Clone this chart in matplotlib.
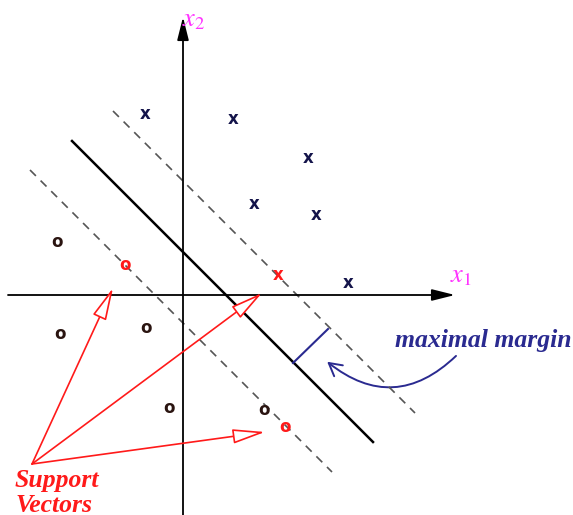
import matplotlib.pyplot as plt
from matplotlib.patches import FancyArrowPatch

# class "x" points (x1, x2), support vector in red
x_pts = [(-38, 181), (50, 176), (125, 137), (71, 91), (133, 80), (165, 12)]
x_sv = [(95, 20)]
# class "o" points
o_pts = [(-126, 53), (-123, -39), (-37, -33), (-14, -113), (81, -115)]
o_sv = [(-58, 30), (102, -132)]

# hyperplane x2 = -x1 + c, margins at c +/- m
c = 43
m = 71
solid_x1 = [-111, 190]
upper_x1 = [-70, 232]
lower_x1 = [-153, 149]

navy = "#14144a"
dark = "#2a1410"
blue = "#2a2a90"
red = "#ff1a1a"
magenta = "#ff33ff"

fig = plt.figure(figsize=(5.73, 5.15), dpi=100)
ax = fig.add_axes([0, 0, 1, 1])
ax.set_xlim(-183, 390)
ax.set_ylim(-220, 295)
ax.axis("off")

# axes arrows
ax.annotate("", xy=(272, 0), xytext=(-175, 0),
            arrowprops=dict(arrowstyle="-|>,head_length=1.4,head_width=0.35",
                            color="black", lw=1.3, shrinkA=0, shrinkB=0))
ax.annotate("", xy=(0, 278), xytext=(0, -222),
            arrowprops=dict(arrowstyle="-|>,head_length=1.4,head_width=0.35",
                            color="black", lw=1.3, shrinkA=0, shrinkB=0))
plt.rcParams["mathtext.fontset"] = "stix"
ax.text(278, 20, r"$x_1$", color=magenta, fontsize=19, ha="center", va="center")
ax.text(11, 276, r"$x_2$", color=magenta, fontsize=19, ha="center", va="center")

# separating line and margins
ax.plot(solid_x1, [-v + c for v in solid_x1], color="black", lw=1.8)
ax.plot(upper_x1, [-v + c + m for v in upper_x1], color="#555555", lw=1.2,
        ls=(0, (5, 4)))
ax.plot(lower_x1, [-v + c - m for v in lower_x1], color="#555555", lw=1.2,
        ls=(0, (5, 4)))

# points drawn as letters
for px, py in x_pts:
    ax.text(px, py, "x", color=navy, fontsize=12, fontweight="bold",
            family="DejaVu Sans", ha="center", va="center")
for px, py in x_sv:
    ax.text(px, py, "x", color=red, fontsize=12, fontweight="bold",
            family="DejaVu Sans", ha="center", va="center")
for px, py in o_pts:
    ax.text(px, py, "o", color=dark, fontsize=12, fontweight="bold",
            family="DejaVu Sans", ha="center", va="center")
for px, py in o_sv:
    ax.text(px, py, "o", color=red, fontsize=12, fontweight="bold",
            family="DejaVu Sans", ha="center", va="center")

# margin width marker
ax.plot([110, 145], [-68, -34], color=blue, lw=1.5)

ax.text(300, -45, "maximal margin", color=blue, fontsize=18.5, style="italic",
        fontweight="bold", family="Liberation Serif", ha="center", va="center")
curve = FancyArrowPatch((275, -59), (142, -65),
                        connectionstyle="arc3,rad=-0.45",
                        arrowstyle="->,head_length=9,head_width=5",
                        color=blue, lw=1.4)
ax.add_patch(curve)

# support vector arrows
origin = (-151, -169)
targets = [(-70, 7), (79, 2), (82, -137)]
for tx, ty in targets:
    ax.annotate("", xy=(tx, ty), xytext=origin,
                arrowprops=dict(arrowstyle="-|>,head_length=2.0,head_width=0.45",
                                fc="white", ec=red, lw=1.2,
                                shrinkA=0, shrinkB=0))
ax.text(-168, -186, "Support", color=red, fontsize=18.5, style="italic",
        fontweight="bold", family="Liberation Serif", ha="left", va="center")
ax.text(-168, -211, "Vectors", color=red, fontsize=18.5, style="italic",
        fontweight="bold", family="Liberation Serif", ha="left", va="center")

fig.savefig("out.png")
